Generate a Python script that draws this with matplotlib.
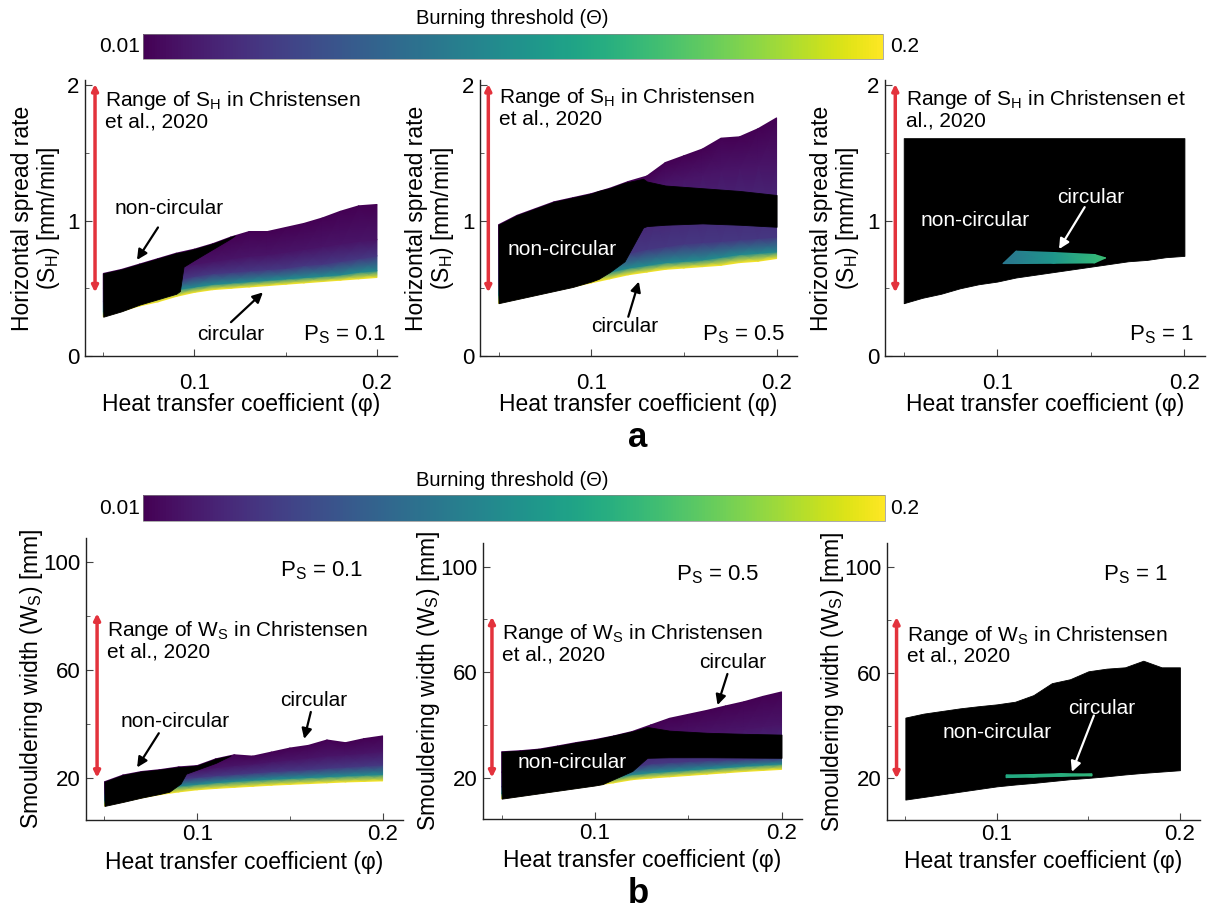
import numpy as np
import matplotlib
matplotlib.use('Agg')
import matplotlib.pyplot as plt
from matplotlib import cm, colors as mcolors

plt.rcParams['font.family'] = ['Liberation Sans', 'DejaVu Sans']
plt.rcParams['mathtext.fontset'] = 'custom'
plt.rcParams['mathtext.rm'] = 'Liberation Sans'
plt.rcParams['mathtext.it'] = 'Liberation Sans:italic'
plt.rcParams['mathtext.bf'] = 'Liberation Sans:bold'

# heat transfer coefficient grid (columns of every surface)
phi = [0.05, 0.06, 0.07, 0.08, 0.09, 0.10, 0.11, 0.12,
       0.13, 0.14, 0.15, 0.16, 0.17, 0.18, 0.19, 0.20]
# burning threshold of each surface row (bottom -> top)
theta_levels = [0.2, 0.1, 0.04, 0.02, 0.01]

# ---- (a) horizontal spread rate S_H [mm/min] ----
a1_bot = [0.29, 0.33, 0.37, 0.40, 0.44, 0.47, 0.49, 0.50, 0.51, 0.52, 0.53, 0.54, 0.55, 0.56, 0.57, 0.58]
a1_t10 = [0.33, 0.37, 0.41, 0.45, 0.49, 0.51, 0.53, 0.54, 0.55, 0.56, 0.57, 0.58, 0.59, 0.60, 0.62, 0.63]
a1_t04 = [0.40, 0.44, 0.48, 0.52, 0.56, 0.59, 0.61, 0.62, 0.63, 0.64, 0.65, 0.67, 0.68, 0.70, 0.72, 0.74]
a1_t02 = [0.50, 0.53, 0.57, 0.61, 0.65, 0.68, 0.70, 0.72, 0.74, 0.75, 0.77, 0.79, 0.81, 0.83, 0.85, 0.86]
a1_top = [0.61, 0.64, 0.68, 0.72, 0.76, 0.79, 0.83, 0.88, 0.92, 0.92, 0.95, 0.98, 1.02, 1.07, 1.11, 1.12]
a1_nc_phi = [0.05, 0.06, 0.07, 0.08, 0.09, 0.092, 0.094, 0.10, 0.11, 0.12, 0.122]
a1_nc_lo = [0.29, 0.33, 0.38, 0.42, 0.46, 0.48, 0.66, 0.71, 0.79, 0.87, 0.89]
a1_nc_hi = [0.61, 0.64, 0.68, 0.72, 0.76, 0.765, 0.77, 0.79, 0.83, 0.88, 0.89]

a2_bot = [0.39, 0.42, 0.45, 0.48, 0.51, 0.54, 0.57, 0.60, 0.62, 0.64, 0.65, 0.66, 0.67, 0.69, 0.70, 0.72]
a2_t10 = [0.45, 0.48, 0.51, 0.54, 0.57, 0.60, 0.62, 0.65, 0.67, 0.69, 0.70, 0.71, 0.73, 0.75, 0.76, 0.77]
a2_t04 = [0.55, 0.58, 0.61, 0.64, 0.67, 0.70, 0.73, 0.76, 0.79, 0.81, 0.83, 0.84, 0.85, 0.86, 0.87, 0.88]
a2_t02 = [0.80, 0.85, 0.90, 0.95, 1.00, 1.05, 1.10, 1.16, 1.22, 1.28, 1.31, 1.34, 1.37, 1.39, 1.41, 1.43]
a2_top = [0.97, 1.04, 1.09, 1.14, 1.17, 1.20, 1.24, 1.29, 1.33, 1.43, 1.48, 1.53, 1.61, 1.62, 1.68, 1.76]
a2_nc_phi = [0.05, 0.06, 0.07, 0.08, 0.09, 0.10, 0.104, 0.11, 0.118, 0.128, 0.13, 0.14, 0.16, 0.18, 0.20]
a2_nc_lo = [0.39, 0.42, 0.45, 0.48, 0.51, 0.55, 0.57, 0.62, 0.70, 0.95, 0.96, 0.97, 0.98, 0.97, 0.955]
a2_nc_hi = [0.97, 1.04, 1.09, 1.14, 1.17, 1.20, 1.22, 1.24, 1.28, 1.31, 1.29, 1.26, 1.24, 1.22, 1.19]

a3_bot = [0.39, 0.43, 0.46, 0.50, 0.53, 0.55, 0.58, 0.60, 0.62, 0.64, 0.66, 0.68, 0.70, 0.71, 0.73, 0.74]
a3_top = [1.61] * 16
a3_c_phi = [0.103, 0.110, 0.130, 0.152, 0.158]
a3_c_lo = [0.683, 0.683, 0.685, 0.688, 0.725]
a3_c_hi = [0.683, 0.775, 0.765, 0.750, 0.725]
a3_c_theta = [0.085, 0.09, 0.11, 0.135, 0.14]

# ---- (b) smouldering width W_S [mm] ----
b1_bot = [9.5, 11, 12.5, 13.7, 14.7, 15.5, 16, 16.4, 16.8, 17.2, 17.5, 17.8, 18.1, 18.4, 18.6, 18.8]
b1_t10 = [11.5, 13, 14.5, 15.8, 16.9, 17.6, 18.2, 18.7, 19.1, 19.5, 19.8, 20.1, 20.4, 20.7, 21.0, 21.2]
b1_t04 = [14, 15.5, 17, 18.5, 19.5, 20.2, 20.8, 21.3, 21.8, 22.3, 22.7, 23.1, 23.6, 24.0, 24.4, 24.8]
b1_t02 = [16, 18, 19.5, 20.8, 22, 22.8, 23.8, 24.6, 25.2, 26.0, 26.7, 27.4, 28.2, 28.6, 29.2, 29.8]
b1_top = [18.5, 21, 22.3, 23, 24, 24.5, 27, 28.5, 28, 29.5, 31, 32, 34, 33, 34.5, 35.5]
b1_nc_phi = [0.05, 0.06, 0.07, 0.08, 0.085, 0.091, 0.094, 0.10, 0.11, 0.118]
b1_nc_lo = [9.5, 11, 12.6, 14, 14.8, 17.8, 21.5, 23.0, 25.5, 28.2]
b1_nc_hi = [18.5, 21, 22.3, 23, 23.5, 24, 24.1, 24.5, 27, 28.2]

b2_bot = [12, 13, 14, 15, 16, 17, 18, 19.2, 19.8, 20.3, 20.8, 21.3, 21.8, 22.3, 22.7, 23.1]
b2_t10 = [14, 15, 16, 17, 18, 19, 20, 21.2, 21.9, 22.4, 22.9, 23.4, 23.9, 24.4, 24.8, 25.2]
b2_t04 = [16.5, 17.5, 18.5, 19.5, 20.5, 21.5, 22.6, 24, 25.3, 25.8, 26.2, 26.5, 26.8, 27.0, 27.2, 27.4]
b2_t02 = [22, 23, 24, 25, 26, 27, 28, 30, 32, 34, 35.5, 36.5, 37.5, 38.5, 39.5, 40.5]
b2_top = [29.8, 30.2, 30.8, 32, 33.3, 34.4, 35.8, 37.5, 40, 42.5, 44, 45.5, 47.2, 48.8, 50.8, 52.5]
b2_nc_phi = [0.05, 0.06, 0.07, 0.08, 0.09, 0.10, 0.104, 0.12, 0.128, 0.14, 0.16, 0.18, 0.20]
b2_nc_lo = [12, 13, 14, 15, 16, 17, 17.5, 22.5, 27.5, 27.7, 27.7, 27.6, 27.5]
b2_nc_hi = [29.8, 30.2, 30.8, 32, 33.3, 34.4, 35.0, 37.5, 39.2, 37.8, 37.0, 36.6, 36.3]

b3_bot = [12, 13, 14, 15, 16, 17, 17.7, 18.3, 19, 19.7, 20.2, 20.8, 21.5, 22.1, 22.6, 23.1]
b3_top = [43, 44.5, 45.5, 46.5, 47.3, 48, 49, 51.5, 56, 57.5, 60.5, 61.5, 62, 64.5, 62, 62]
b3_c_phi = [0.105, 0.12, 0.135, 0.152]
b3_c_lo = [20.3, 20.5, 20.8, 21.0]
b3_c_hi = [21.3, 21.5, 21.8, 21.7]
b3_c_theta = [0.125, 0.13, 0.13, 0.135]

ps_labels = ['0.1', '0.5', '1']
range_a = [0.47, 2.01]
range_b = [20, 81]

norm = mcolors.Normalize(vmin=0.01, vmax=0.2)
CMAP = 'viridis'
RED = '#e3323c'
FS = 16


def draw_surface(ax, rows):
    Y = np.array(rows)
    X = np.tile(phi, (len(rows), 1))
    C = np.repeat(np.array(theta_levels)[:, None], len(phi), axis=1)
    ax.pcolormesh(X, Y, C, shading='gouraud', cmap=CMAP, norm=norm)


def draw_patch(ax, pphi, lo, hi, th):
    X = np.array([pphi, pphi])
    Y = np.array([lo, hi])
    C = np.array([th, th])
    ax.pcolormesh(X, Y, C, shading='gouraud', cmap=CMAP, norm=norm, zorder=3)


def arrow(ax, tail, tip, color='black'):
    ax.annotate('', xy=tip, xytext=tail,
                arrowprops=dict(arrowstyle='-|>', color=color, lw=1.6,
                                mutation_scale=15, shrinkA=0, shrinkB=0),
                zorder=5)


def style(ax, row):
    for s in ['top', 'right']:
        ax.spines[s].set_visible(False)
    for s in ['left', 'bottom']:
        ax.spines[s].set_color('#222222')
        ax.spines[s].set_linewidth(1.0)
    ax.set_xlim(0.04, 0.211)
    ax.set_xticks([0.1, 0.2])
    ax.set_xticklabels(['0.1', '0.2'])
    ax.set_xticks([0.05, 0.15], minor=True)
    if row == 'a':
        ax.set_ylim(0, 2.04)
        ax.set_yticks([0, 1, 2])
        ax.set_yticks([0.5, 1.5], minor=True)
        ax.set_ylabel('Horizontal spread rate\n(S$_\\mathrm{H}$) [mm/min]', fontsize=16.5,
                      linespacing=1.05)
        ax.yaxis.set_label_coords(-0.075, 0.5)
        ax.tick_params(axis='x', which='major', pad=12)
        ax.set_xlabel('Heat transfer coefficient (φ)', fontsize=16.5)
        ax.xaxis.set_label_coords(0.5, -0.135)
    else:
        ax.set_ylim(4.3, 109)
        ax.set_yticks([20, 60, 100])
        ax.set_yticks([40, 80], minor=True)
        ax.set_ylabel('Smouldering width (W$_\\mathrm{S}$) [mm]', fontsize=16.5)
        ax.yaxis.set_label_coords(-0.13, 0.5)
        ax.tick_params(axis='x', which='major', pad=3)
        ax.set_xlabel('Heat transfer coefficient (φ)', fontsize=16.5)
        ax.xaxis.set_label_coords(0.5, -0.11)
    ax.tick_params(which='both', direction='in', labelsize=FS, color='#444444')
    ax.tick_params(which='major', length=5)
    ax.tick_params(which='minor', length=3)
    ax.tick_params(axis='y', pad=4)


def range_arrow(ax, x, yr, line1, line2, ty):
    ax.annotate('', xy=(x, yr[1]), xytext=(x, yr[0]),
                arrowprops=dict(arrowstyle='<|-|>', color=RED, lw=2.5,
                                mutation_scale=9, shrinkA=0, shrinkB=0))
    ax.text(x + 0.0055, ty, line1, fontsize=15, ha='left', va='top')
    ax.annotate(line2, xy=(x + 0.0055, ty), xytext=(0, -16.8),
                textcoords='offset points', fontsize=15, ha='left', va='top')


fig = plt.figure(figsize=(12.09, 9.13), dpi=100)

pos_a = [[0.0703, 0.6101, 0.2581, 0.3023],
         [0.3970, 0.6101, 0.2622, 0.3023],
         [0.7320, 0.6101, 0.2647, 0.3023]]
pos_b = [[0.0711, 0.1019, 0.2622, 0.3089],
         [0.3995, 0.1030, 0.2639, 0.3023],
         [0.7337, 0.1019, 0.2589, 0.3034]]

axa = [fig.add_axes(p) for p in pos_a]
axb = [fig.add_axes(p) for p in pos_b]

RNG_SH = 'Range of S$_\\mathrm{H}$ in Christensen'
RNG_WS = 'Range of W$_\\mathrm{S}$ in Christensen'

# ---------- row a ----------
ax = axa[0]
draw_surface(ax, [a1_bot, a1_t10, a1_t04, a1_t02, a1_top])
ax.fill_between(a1_nc_phi, a1_nc_lo, a1_nc_hi, color='black', lw=0.6, zorder=2)
style(ax, 'a')
range_arrow(ax, 0.0455, range_a, RNG_SH, 'et al., 2020', 1.97)
ax.text(0.0859, 1.09, 'non-circular', fontsize=15, ha='center', va='center')
arrow(ax, (0.080, 0.95), (0.0685, 0.71))
ax.text(0.120, 0.16, 'circular', fontsize=15, ha='center', va='center')
arrow(ax, (0.120, 0.25), (0.1375, 0.47))

ax = axa[1]
draw_surface(ax, [a2_bot, a2_t10, a2_t04, a2_t02, a2_top])
ax.fill_between(a2_nc_phi, a2_nc_lo, a2_nc_hi, color='black', lw=0.6, zorder=2)
style(ax, 'a')
range_arrow(ax, 0.0445, range_a, RNG_SH, 'et al., 2020', 1.995)
ax.text(0.0844, 0.79, 'non-circular', fontsize=15, ha='center', va='center', color='white', zorder=6)
ax.text(0.118, 0.22, 'circular', fontsize=15, ha='center', va='center')
arrow(ax, (0.120, 0.29), (0.1257, 0.55))

ax = axa[2]
ax.fill_between(phi, a3_bot, a3_top, color='black', lw=0.6, zorder=2)
draw_patch(ax, a3_c_phi, a3_c_lo, a3_c_hi, a3_c_theta)
style(ax, 'a')
range_arrow(ax, 0.0455, range_a, RNG_SH + ' et', 'al., 2020', 1.98)
ax.text(0.088, 1.0, 'non-circular', fontsize=15, ha='center', va='center', color='white', zorder=6)
ax.text(0.150, 1.17, 'circular', fontsize=15, ha='center', va='center', color='white', zorder=6)
arrow(ax, (0.1467, 1.10), (0.133, 0.79), color='white')

for ax, lab in zip(axa, ps_labels):
    ax.text(0.205, 0.16, 'P$_\\mathrm{S}$ = ' + lab, fontsize=FS, ha='right', va='center')

# ---------- row b ----------
ax = axb[0]
draw_surface(ax, [b1_bot, b1_t10, b1_t04, b1_t02, b1_top])
ax.fill_between(b1_nc_phi, b1_nc_lo, b1_nc_hi, color='black', lw=0.6, zorder=2)
style(ax, 'b')
range_arrow(ax, 0.046, range_b, RNG_WS, 'et al., 2020', 79)
ax.text(0.0883, 41, 'non-circular', fontsize=15, ha='center', va='center')
arrow(ax, (0.0793, 36.5), (0.0676, 23.8))
ax.text(0.163, 48.8, 'circular', fontsize=15, ha='center', va='center')
arrow(ax, (0.1613, 44.4), (0.1577, 34.4))

ax = axb[1]
draw_surface(ax, [b2_bot, b2_t10, b2_t04, b2_t02, b2_top])
ax.fill_between(b2_nc_phi, b2_nc_lo, b2_nc_hi, color='black', lw=0.6, zorder=2)
style(ax, 'b')
range_arrow(ax, 0.0448, range_b, RNG_WS, 'et al., 2020', 79)
ax.text(0.088, 25.6, 'non-circular', fontsize=15, ha='center', va='center', color='white', zorder=6)
ax.text(0.174, 63.5, 'circular', fontsize=15, ha='center', va='center')
arrow(ax, (0.171, 59.3), (0.1657, 47.5))

ax = axb[2]
ax.fill_between(phi, b3_bot, b3_top, color='black', lw=0.6, zorder=2)
draw_patch(ax, b3_c_phi, b3_c_lo, b3_c_hi, b3_c_theta)
style(ax, 'b')
range_arrow(ax, 0.0452, range_b, RNG_WS, 'et al., 2020', 78.5)
ax.text(0.0999, 37.3, 'non-circular', fontsize=15, ha='center', va='center', color='white', zorder=6)
ax.text(0.157, 46.6, 'circular', fontsize=15, ha='center', va='center', color='white', zorder=6)
arrow(ax, (0.153, 43.8), (0.141, 22.5), color='white')

ps_b_x = [0.167, 0.166, 0.1755]
for ax, lab, x in zip(axb, ps_labels, ps_b_x):
    ax.text(x, 97, 'P$_\\mathrm{S}$ = ' + lab, fontsize=FS, ha='center', va='center')

# ---------- colourbars ----------
for cpos, ty, lab_y in [([0.1183, 0.9354, 0.6121, 0.0274], 18, 46),
                        ([0.1183, 0.4294, 0.6137, 0.0285], 480, 508)]:
    cax = fig.add_axes(cpos)
    cb = fig.colorbar(cm.ScalarMappable(norm=norm, cmap=CMAP), cax=cax,
                      orientation='horizontal')
    cb.set_ticks([])
    cb.outline.set_linewidth(0.5)
    cb.outline.set_edgecolor('#888888')
    fig.text(512 / 1209, 1 - ty / 913, 'Burning threshold (Θ)', fontsize=14.5,
             ha='center', va='center')
    fig.text(140 / 1209, 1 - lab_y / 913, '0.01', fontsize=15, ha='right', va='center')
    fig.text(890 / 1209, 1 - lab_y / 913, '0.2', fontsize=15, ha='left', va='center')

fig.text(638 / 1209, 1 - 437 / 913, 'a', fontsize=25, fontweight='bold', ha='center', va='center')
fig.text(638 / 1209, 1 - 893 / 913, 'b', fontsize=25, fontweight='bold', ha='center', va='center')

fig.savefig('out.png', dpi=100, facecolor='white')
